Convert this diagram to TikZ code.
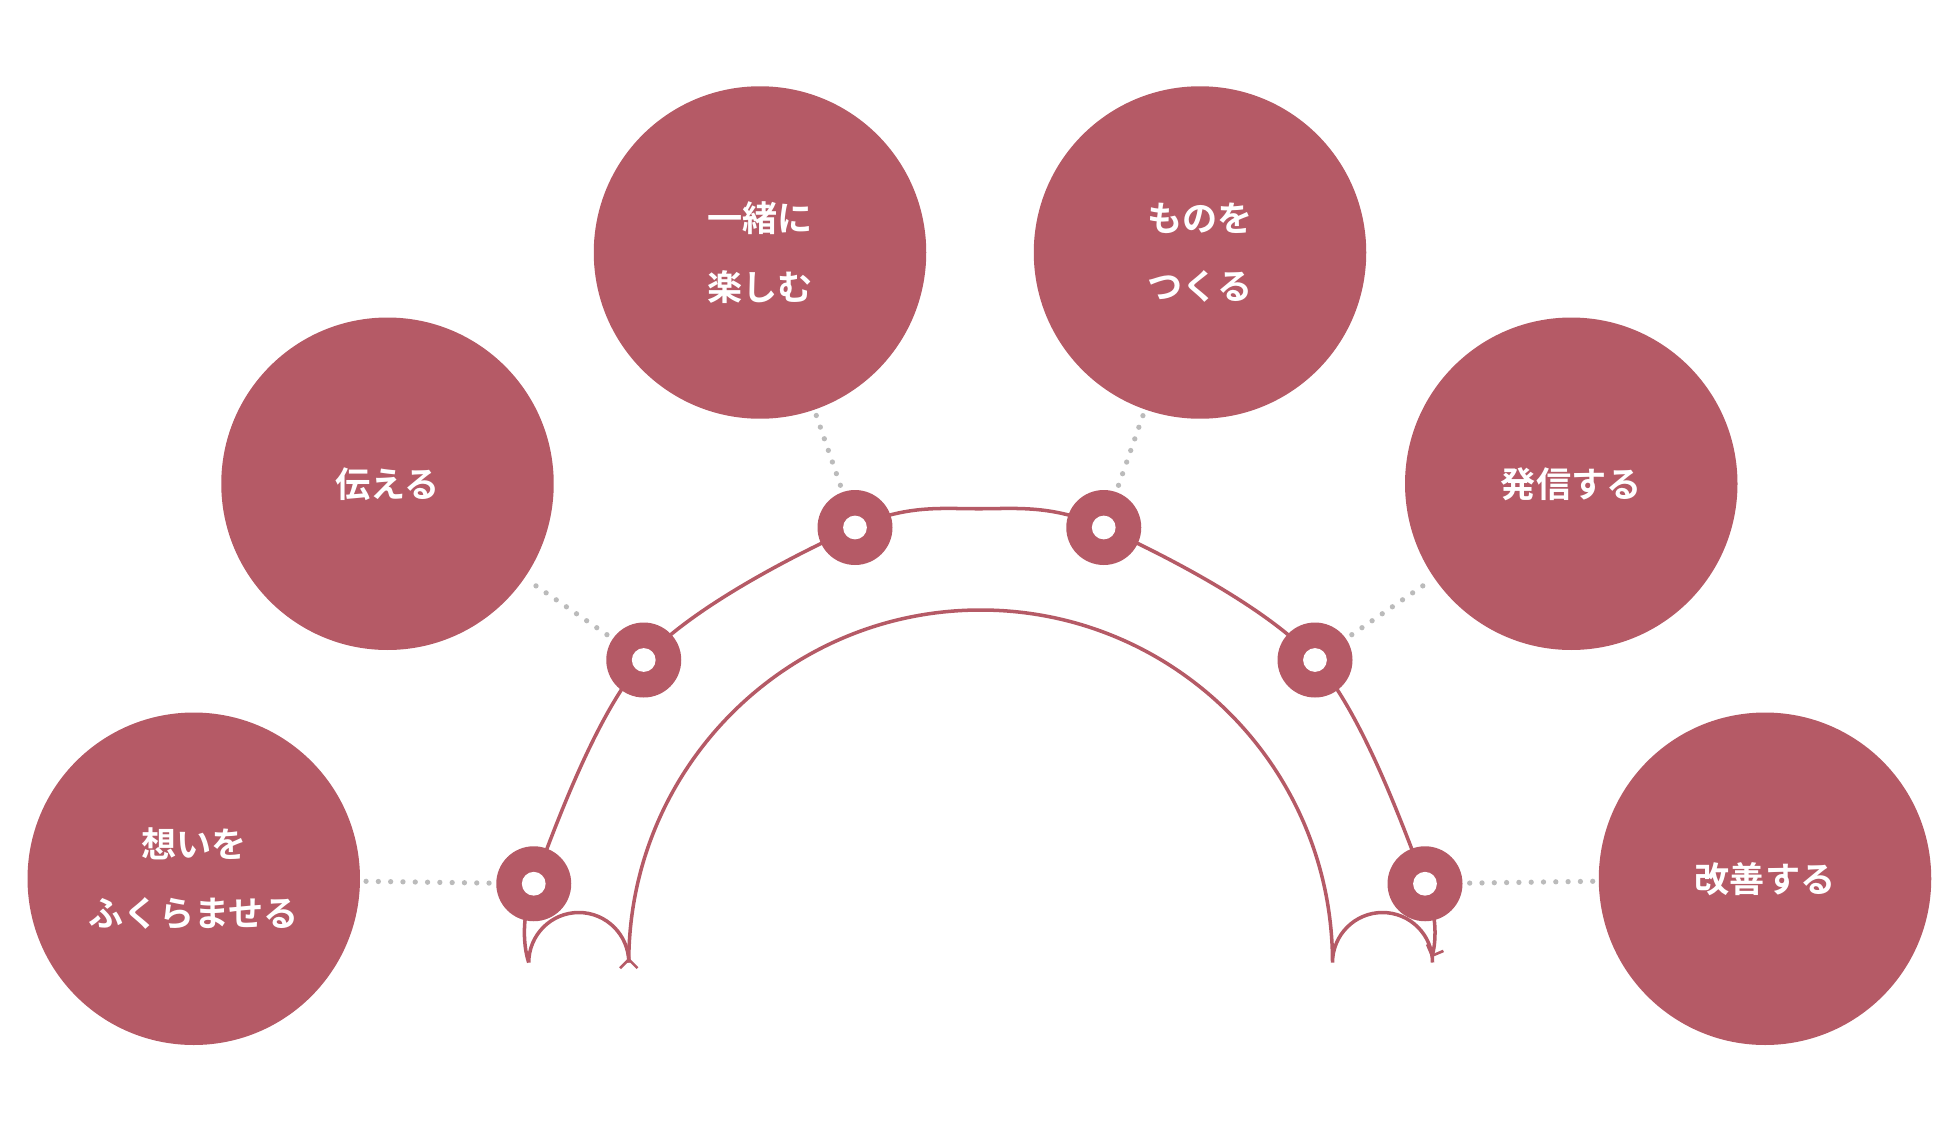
\documentclass[tikz,border=0pt]{standalone}
\usepackage{fontspec}
\newfontfamily\jpfont{Noto Sans CJK JP}[BoldFont={* Bold}]
\usetikzlibrary{arrows.meta}
\definecolor{rose}{HTML}{B55A66}
\definecolor{dotgray}{HTML}{BBBBBB}

\begin{document}
\begin{tikzpicture}[
		x=0.05cm, y=-0.05cm,
		bubble/.style={circle, fill=rose, minimum size=13.3cm, inner sep=0pt, text=white,
			font=\jpfont\bfseries\fontsize{40}{78}\selectfont, align=center},
		marker/.style={circle, fill=rose, minimum size=3cm, inner sep=0pt},
		hole/.style={circle, fill=white, minimum size=0.95cm, inner sep=0pt},
		track/.style={rose, line width=4pt},
		dots/.style={dotgray, line width=6pt, line cap=round, dash pattern=on 0pt off 14pt},
		tip/.style={-{Straight Barb[length=10pt,width=20pt,line width=3pt]}},
		]
		\useasboundingbox (0,0) rectangle (1560,900);
		
		% tracks
		\draw[track, tip] (503,770) arc[start angle=0, end angle=-180, radius=40]
			plot[smooth, tension=0.55] coordinates {(423,770) (427,707) (515,528) (684,422) (783,407) (883,422) (1052,528) (1140,707) (1145,766)};
		\draw[track, tip] (1146,770) arc[start angle=0, end angle=180, y radius=-40, x radius=40]
			arc[start angle=0, end angle=180, x radius=281.5, y radius=-282] -- (503,766);
		
		% bubbles
		\node[bubble] (c1) at (155,703) {想いを\\ふくらませる};
		\node[bubble] (c2) at (310,387) {伝える};
		\node[bubble] (c3) at (608,202) {一緒に\\楽しむ};
		\node[bubble] (c4) at (960,202) {ものを\\つくる};
		\node[bubble] (c5) at (1257,387) {発信する};
		\node[bubble] (c6) at (1412,703) {改善する};
		
		% markers
		\foreach \name/\pos in {m1/{(427,707)}, m2/{(515,528)}, m3/{(684,422)}, m4/{(883,422)}, m5/{(1052,528)}, m6/{(1140,707)}}{
			\node[marker] (\name) at \pos {};
			\node[hole] at \pos {};
		}
		
		% dotted links
		\foreach \i in {1,...,6}
			\draw[dots, shorten <=8pt, shorten >=6pt] (m\i) -- (c\i);
		
	\end{tikzpicture}
\end{document}
